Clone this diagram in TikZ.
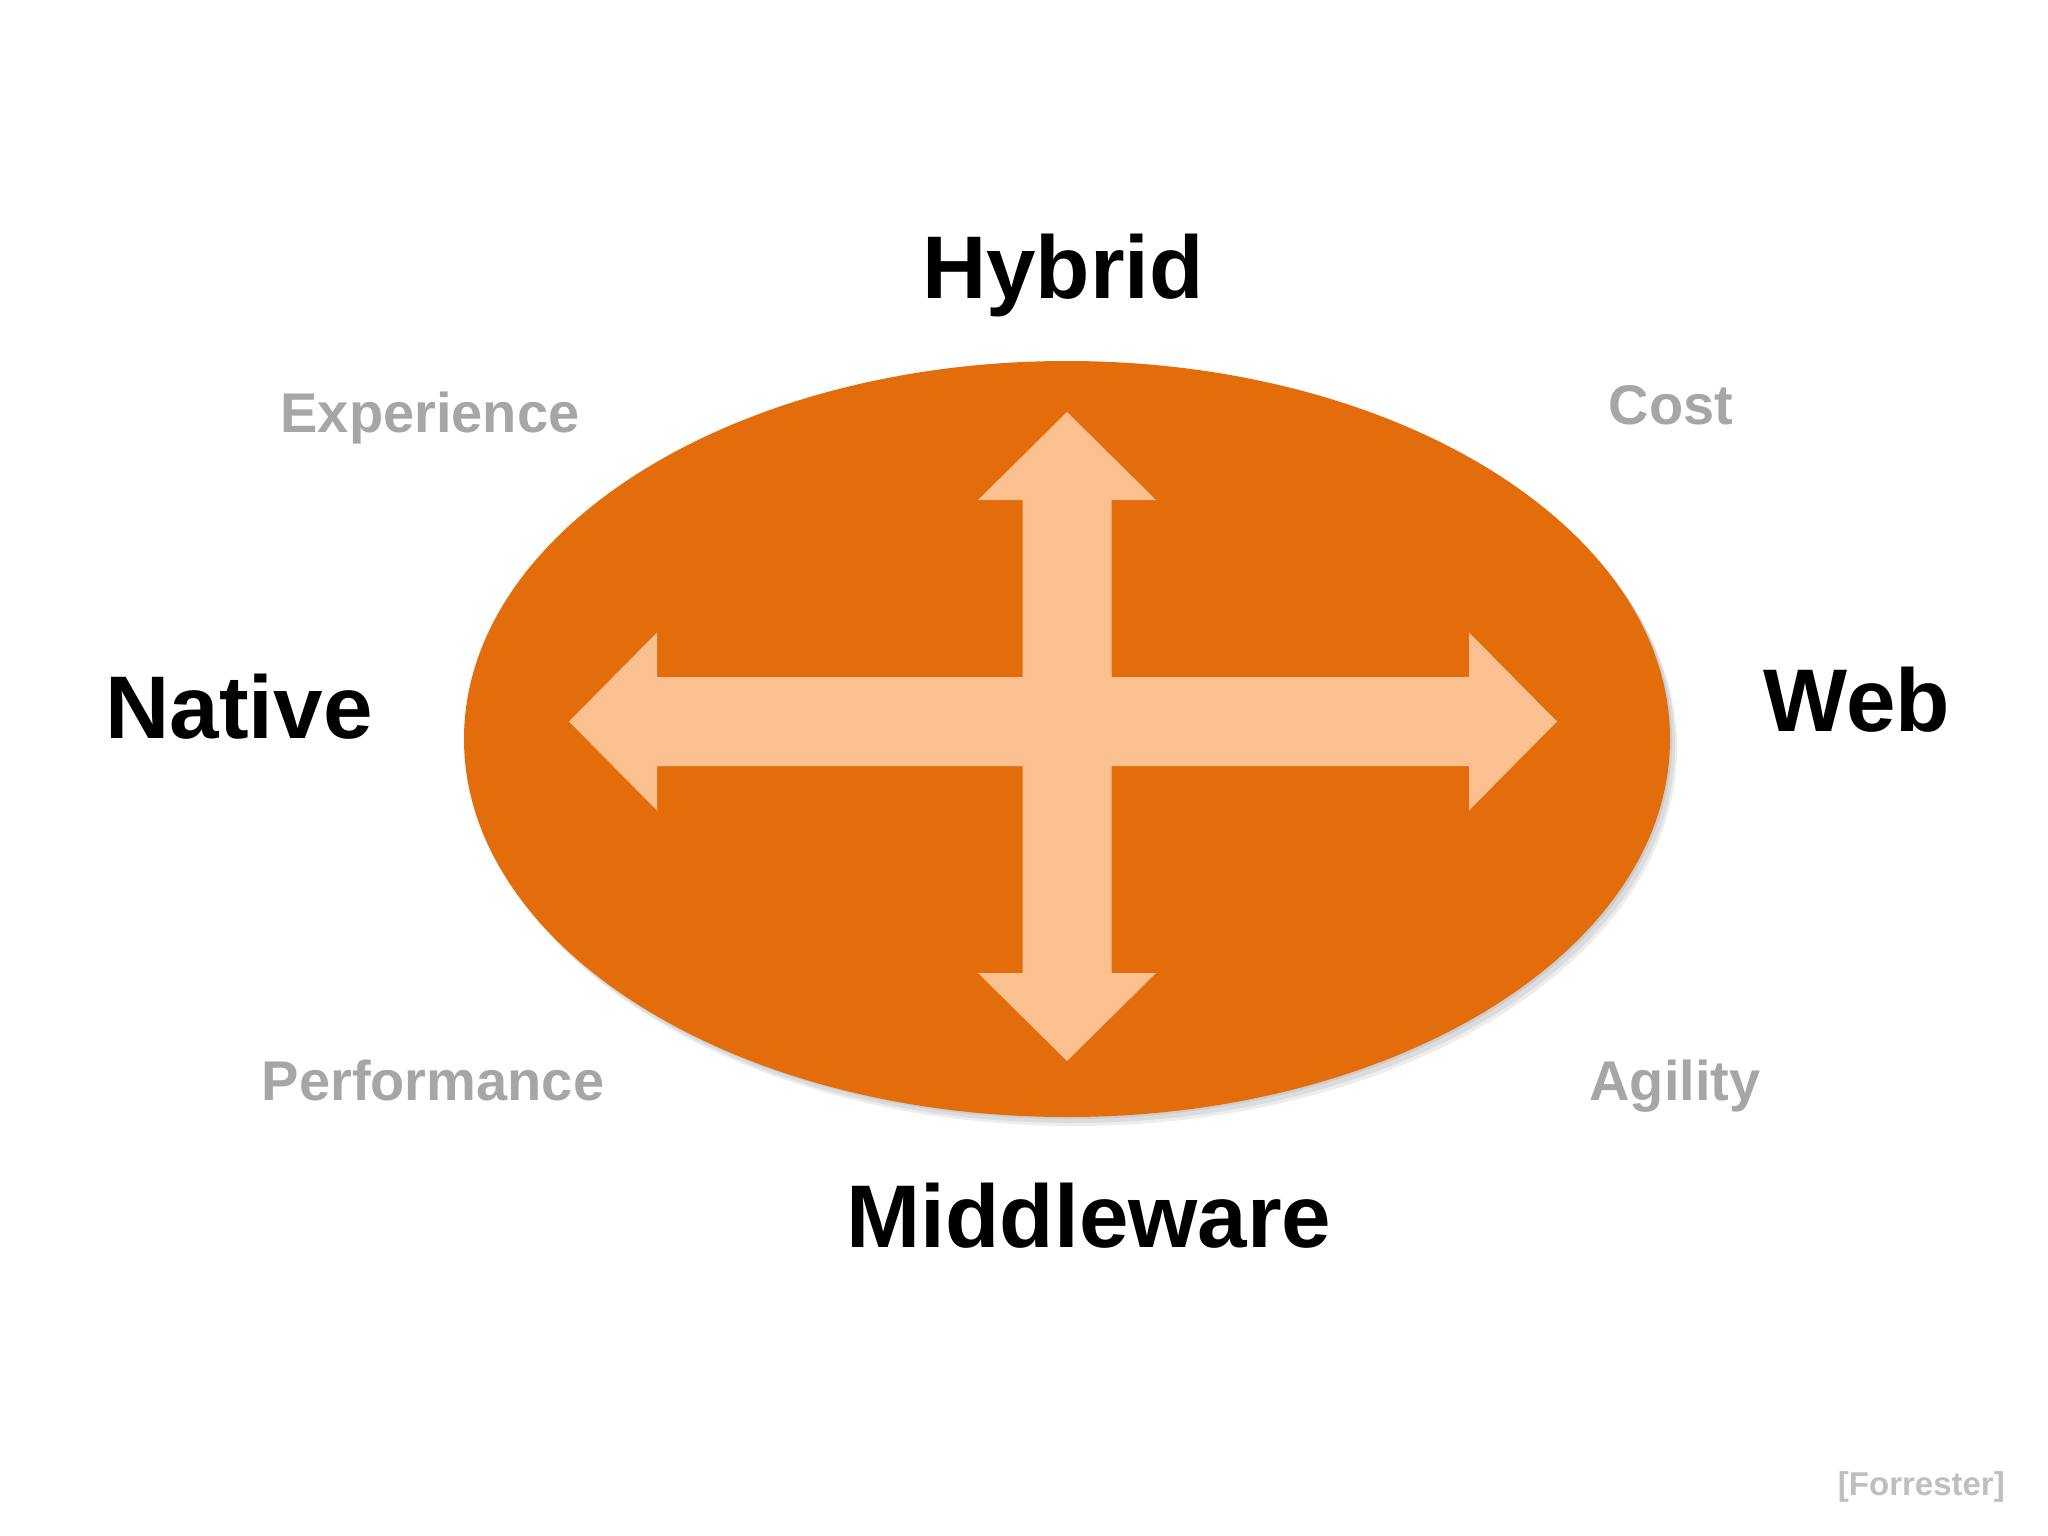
\documentclass[tikz,border=0pt]{standalone}
\usepackage{fontspec}
\setmainfont{Liberation Sans}
\usetikzlibrary{shapes.geometric}
\definecolor{ovalorange}{HTML}{E36C0B}
\definecolor{arrowpeach}{HTML}{FAC090}
\definecolor{labelgrey}{HTML}{A6A6A6}
\definecolor{srcgrey}{HTML}{BFBFBF}
\tikzset{
  bigword/.style={font=\bfseries\fontsize{89}{106}\selectfont, text=black, inner sep=0pt, anchor=base},
  smallword/.style={font=\bfseries\fontsize{56}{66}\selectfont, text=labelgrey, inner sep=0pt, anchor=base},
  sourceword/.style={font=\bfseries\fontsize{33}{40}\selectfont, text=srcgrey, inner sep=0pt, anchor=base east},
  oval/.style={ellipse, fill=ovalorange, minimum width=1206pt, minimum height=756pt, inner sep=0pt},
  shade1/.style={ellipse, fill=black, opacity=0.07, minimum width=1206pt, minimum height=756pt, inner sep=0pt},
  crossarrow/.style={fill=arrowpeach}
}
\begin{document}
\begin{tikzpicture}[x=1pt,y=-1pt]
\useasboundingbox (0,0) rectangle (2048,1536);
% soft shadow
\node[shade1] (sh3) at (1074,748) {};
\node[shade1] (sh2) at (1072,745) {};
\node[shade1] (sh1) at (1069,741) {};
\node[oval] (oval) at (1067,739) {};
% four-way arrow
\fill[crossarrow] (1067,412) -- (1156,500) -- (1111.5,500) -- (1111.5,677) -- (1469,677) -- (1469,632.5)
  -- (1557,721.5) -- (1469,810.5) -- (1469,766) -- (1111.5,766) -- (1111.5,973) -- (1156,973)
  -- (1067,1061) -- (978,973) -- (1022.5,973) -- (1022.5,766) -- (657,766) -- (657,810.5)
  -- (569,721.5) -- (657,632.5) -- (657,677) -- (1022.5,677) -- (1022.5,500) -- (978,500) -- cycle;
% main labels
\node[bigword] (hybrid) at (1063,298) {Hybrid};
\node[bigword] (native) at (239,738) {Native};
\node[bigword] (web) at (1857,731) {Web};
\node[bigword] (middleware) at (1089,1247) {Middleware};
% secondary labels
\node[smallword] (experience) at (430,432) {Experience};
\node[smallword] (cost) at (1671,424) {Cost};
\node[smallword] (performance) at (433,1100) {Performance};
\node[smallword] (agility) at (1675,1100) {Agility};
\node[sourceword] (forrester) at (2005,1495) {[Forrester]};
\end{tikzpicture}
\end{document}
